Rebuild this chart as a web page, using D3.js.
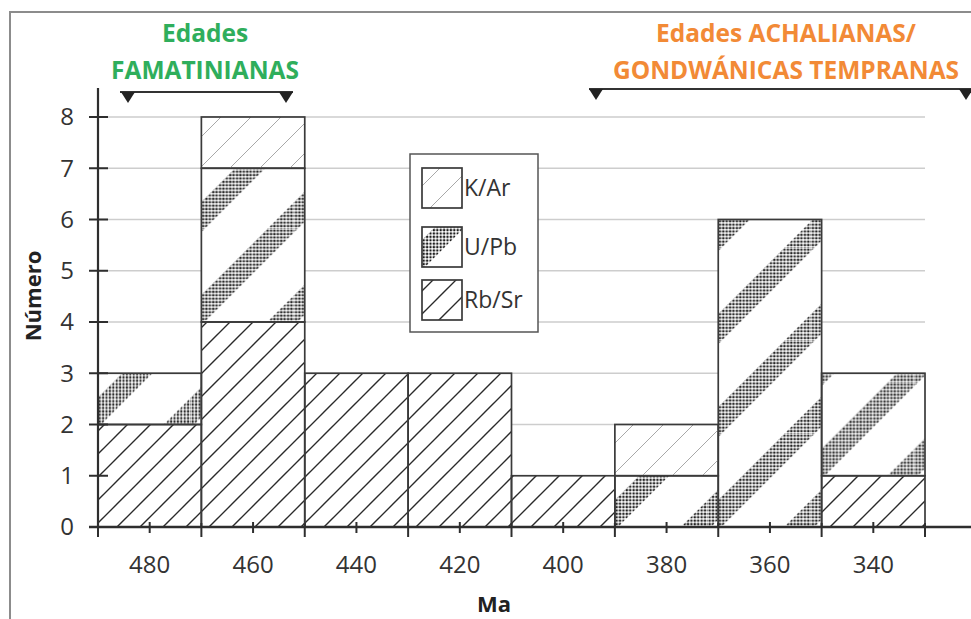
<!DOCTYPE html>
<html>
<head>
<meta charset="utf-8">
<script src="https://cdnjs.cloudflare.com/ajax/libs/d3/7.8.5/d3.min.js"></script>
<style>
    body { margin: 0; background: #fff; }
    text { font-family: "Open Sans", sans-serif; }
</style>
</head>
<body>
<div id="chart"></div>
<script>

// Data: number of ages per 20 Ma bin
var binCenters = [480, 460, 440, 420, 400, 380, 360, 340];
var rbSr = [2, 4, 3, 3, 1, 0, 0, 1];
var uPb = [1, 3, 0, 0, 0, 1, 6, 2];
var kAr = [0, 1, 0, 0, 0, 1, 0, 0];
var yTicks = [0, 1, 2, 3, 4, 5, 6, 7, 8];
var binWidth = 20;

var methods = [
    {key: "kAr", label: "K/Ar"},
    {key: "uPb", label: "U/Pb"},
    {key: "rbSr", label: "Rb/Sr"}
];

var table = binCenters.map(function (c, i) {
    return {center: c, rbSr: rbSr[i], uPb: uPb[i], kAr: kAr[i]};
});

var width = 971, height = 619;

var svg = d3.select("#chart").append("svg")
    .attr("width", width)
    .attr("height", height);

var defs = svg.append("defs");

// Scales
var x = d3.scaleLinear()
    .domain([d3.max(binCenters) + binWidth / 2, d3.min(binCenters) - binWidth / 2])
    .range([98, 925]);

var y = d3.scaleLinear()
    .domain([0, 8])
    .range([527, 117]);

// Patterns
// Rb/Sr: dense dark diagonal lines
var pRb = 23;
defs.append("pattern")
    .attr("id", "pat-rbsr")
    .attr("patternUnits", "userSpaceOnUse")
    .attr("width", pRb).attr("height", pRb)
    .append("path")
    .attr("d", "M0," + pRb + "L" + pRb + ",0M-5,5L5,-5M" + (pRb - 5) + "," + (pRb + 5) + "L" + (pRb + 5) + "," + (pRb - 5))
    .attr("stroke", "#2a2a2a")
    .attr("stroke-width", 1.4);

// K/Ar: sparse light diagonal lines
var pK = 30;
defs.append("pattern")
    .attr("id", "pat-kar")
    .attr("patternUnits", "userSpaceOnUse")
    .attr("width", pK).attr("height", pK)
    .attr("x", 8)
    .append("path")
    .attr("d", "M0," + pK + "L" + pK + ",0M-5,5L5,-5M" + (pK - 5) + "," + (pK + 5) + "L" + (pK + 5) + "," + (pK - 5))
    .attr("stroke", "#a8a8a8")
    .attr("stroke-width", 1);

// U/Pb: fine dots, used inside wide diagonal bands
var dots = defs.append("pattern")
    .attr("id", "pat-dots")
    .attr("patternUnits", "userSpaceOnUse")
    .attr("width", 3.4).attr("height", 3.4);
dots.append("circle")
    .attr("cx", 1.7).attr("cy", 1.7).attr("r", 1.25)
    .attr("fill", "#1e1e1e");

var bandPeriod = 93, bandStart = 66, bandWidth = 30;

// one band pattern per shape, anchored at the shape's bottom-left corner
function bandPattern(id, x0, y0) {
    var p = defs.append("pattern")
        .attr("id", id)
        .attr("patternUnits", "userSpaceOnUse")
        .attr("x", x0).attr("y", y0)
        .attr("width", bandPeriod).attr("height", bandPeriod);
    [bandStart - bandPeriod, bandStart, bandStart + bandPeriod].forEach(function (c) {
        p.append("polygon")
            .attr("points", [
                [c + 200, -200], [c + bandWidth + 200, -200],
                [-200, c + bandWidth + 200], [-200, c + 200]
            ].map(function (pt) { return pt.join(","); }).join(" "))
            .attr("fill", "url(#pat-dots)");
    });
    return "url(#" + id + ")";
}

// Outer frame
svg.append("path")
    .attr("d", "M10,619V12H971")
    .attr("fill", "none")
    .attr("stroke", "#8c8c8c")
    .attr("stroke-width", 2);

// Gridlines
svg.append("g")
    .selectAll("line")
    .data(yTicks.slice(1))
    .enter().append("line")
    .attr("x1", x.range()[0])
    .attr("x2", x.range()[1])
    .attr("y1", function (d) { return y(d); })
    .attr("y2", function (d) { return y(d); })
    .attr("stroke", "#cdcdcd")
    .attr("stroke-width", 1.5);

// Stacked bars
var stack = d3.stack().keys(["rbSr", "uPb", "kAr"]);
var series = stack(table);

var segments = [];
series.forEach(function (s) {
    s.forEach(function (d) {
        if (d[1] - d[0] > 0) {
            segments.push({key: s.key, y0: d[0], y1: d[1], center: d.data.center});
        }
    });
});

var bars = svg.append("g").attr("class", "bars");

bars.selectAll(".bar-bg")
    .data(segments)
    .enter().append("rect")
    .attr("class", "bar-bg")
    .attr("x", function (d) { return x(d.center + binWidth / 2); })
    .attr("width", function (d) { return x(d.center - binWidth / 2) - x(d.center + binWidth / 2); })
    .attr("y", function (d) { return y(d.y1); })
    .attr("height", function (d) { return y(d.y0) - y(d.y1); })
    .attr("fill", "#fff");

bars.selectAll(".bar")
    .data(segments)
    .enter().append("rect")
    .attr("class", "bar")
    .attr("x", function (d) { return x(d.center + binWidth / 2); })
    .attr("width", function (d) { return x(d.center - binWidth / 2) - x(d.center + binWidth / 2); })
    .attr("y", function (d) { return y(d.y1); })
    .attr("height", function (d) { return y(d.y0) - y(d.y1); })
    .attr("fill", function (d, i) {
        if (d.key == "rbSr") return "url(#pat-rbsr)";
        if (d.key == "kAr") return "url(#pat-kar)";
        return bandPattern("pat-upb-" + i, x(d.center + binWidth / 2), y(d.y0));
    })
    .attr("stroke", "#3a3a3a")
    .attr("stroke-width", 1.7);

// X axis: major ticks at bin edges, labels at bin centers
var edges = binCenters.map(function (c) { return c + binWidth / 2; })
    .concat([d3.min(binCenters) - binWidth / 2]);

var xAxis = svg.append("g")
    .attr("transform", "translate(0," + y(0) + ")");

xAxis.append("line")
    .attr("x1", 89).attr("x2", 971)
    .attr("stroke", "#2e2e2e")
    .attr("stroke-width", 2.5);

xAxis.selectAll(".major")
    .data(edges)
    .enter().append("line")
    .attr("class", "major")
    .attr("x1", function (d) { return x(d); })
    .attr("x2", function (d) { return x(d); })
    .attr("y1", -4).attr("y2", 10)
    .attr("stroke", "#2e2e2e")
    .attr("stroke-width", 2);

xAxis.selectAll(".minor")
    .data(binCenters)
    .enter().append("line")
    .attr("class", "minor")
    .attr("x1", function (d) { return x(d); })
    .attr("x2", function (d) { return x(d); })
    .attr("y1", -5).attr("y2", 6)
    .attr("stroke", "#2e2e2e")
    .attr("stroke-width", 2);

xAxis.selectAll(".x-label")
    .data(binCenters)
    .enter().append("text")
    .attr("class", "x-label")
    .attr("x", function (d) { return x(d); })
    .attr("y", 46)
    .attr("text-anchor", "middle")
    .attr("font-size", 24)
    .attr("fill", "#333")
    .text(function (d) { return d; });

// Y axis
var yAxis = svg.append("g");

yAxis.append("line")
    .attr("x1", 98).attr("x2", 98)
    .attr("y1", 88).attr("y2", y(0))
    .attr("stroke", "#2e2e2e")
    .attr("stroke-width", 2.2);

yAxis.selectAll(".y-tick")
    .data(yTicks)
    .enter().append("line")
    .attr("class", "y-tick")
    .attr("x1", 89).attr("x2", 108)
    .attr("y1", function (d) { return y(d); })
    .attr("y2", function (d) { return y(d); })
    .attr("stroke", "#2e2e2e")
    .attr("stroke-width", 2);

yAxis.selectAll(".y-label")
    .data(yTicks)
    .enter().append("text")
    .attr("class", "y-label")
    .attr("x", 74)
    .attr("y", function (d) { return y(d); })
    .attr("dy", "0.35em")
    .attr("text-anchor", "end")
    .attr("font-size", 24)
    .attr("fill", "#333")
    .text(function (d) { return d; });

// Axis titles
svg.append("text")
    .attr("transform", "translate(41,296) rotate(-90)")
    .attr("text-anchor", "middle")
    .attr("font-size", 22)
    .attr("font-weight", "bold")
    .attr("fill", "#222")
    .text("Número");

svg.append("text")
    .attr("x", 494)
    .attr("y", 612)
    .attr("text-anchor", "middle")
    .attr("font-size", 22)
    .attr("font-weight", "bold")
    .attr("fill", "#222")
    .text("Ma");

// Legend
var legend = svg.append("g");

legend.append("rect")
    .attr("x", 410).attr("y", 154)
    .attr("width", 128).attr("height", 178)
    .attr("fill", "#fff")
    .attr("stroke", "#555")
    .attr("stroke-width", 1.5);

var legendY = [168, 227, 280];
methods.forEach(function (m, i) {
    var fill = m.key == "rbSr" ? "url(#pat-rbsr)"
        : m.key == "kAr" ? "url(#pat-kar)"
        : bandPattern("pat-upb-legend", 422, legendY[i] + 40);
    legend.append("rect")
        .attr("x", 422).attr("y", legendY[i])
        .attr("width", 40).attr("height", 40)
        .attr("fill", fill)
        .attr("stroke", "#3a3a3a")
        .attr("stroke-width", 1.7);
    legend.append("text")
        .attr("x", 464)
        .attr("y", legendY[i] + 20)
        .attr("dy", "0.35em")
        .attr("font-size", 23)
        .attr("fill", "#333")
        .text(m.label);
});

// Age group headers with brackets
var groups = [
    {lines: ["Edades", "FAMATINIANAS"], color: "#2fae5c", cx: 205, lineY: 92, from: 120, to: 293, tri: [128, 286]},
    {lines: ["Edades ACHALIANAS/", "GONDWÁNICAS TEMPRANAS"], color: "#f28a36", cx: 786, lineY: 89, from: 589, to: 971, tri: [596, 966]}
];

groups.forEach(function (g) {
    g.lines.forEach(function (t, i) {
        svg.append("text")
            .attr("x", g.cx)
            .attr("y", i == 0 ? 42 : 79)
            .attr("text-anchor", "middle")
            .attr("font-size", 24.5)
            .attr("font-weight", "bold")
            .attr("fill", g.color)
            .text(t);
    });
    svg.append("line")
        .attr("x1", g.from).attr("x2", g.to)
        .attr("y1", g.lineY).attr("y2", g.lineY)
        .attr("stroke", "#333")
        .attr("stroke-width", 2);
    g.tri.forEach(function (tx) {
        svg.append("path")
            .attr("d", "M" + (tx - 7) + "," + g.lineY + "L" + (tx + 7) + "," + g.lineY + "L" + tx + "," + (g.lineY + 11) + "Z")
            .attr("fill", "#222");
    });
});

</script>
</body>
</html>
